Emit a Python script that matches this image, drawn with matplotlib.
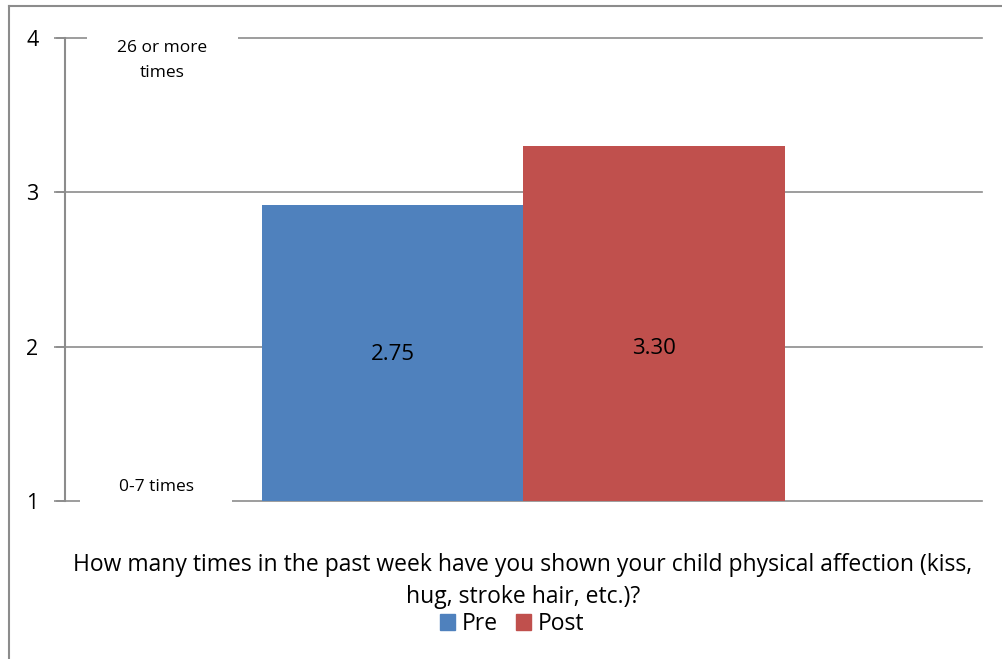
import matplotlib
matplotlib.use('Agg')
import matplotlib.pyplot as plt
from matplotlib.lines import Line2D
from matplotlib.patches import Patch, Rectangle

series = ['Pre', 'Post']
values = [2.92, 3.30]
value_labels = ['2.75', '3.30']
colors = ['#4F81BD', '#C0504D']
yticks = [1, 2, 3, 4]
question = ('How many times in the past week have you shown your child physical affection (kiss,\n'
            'hug, stroke hair, etc.)?')
top_note = '26 or more\ntimes'
bottom_note = '0-7 times'

plt.rcParams['font.family'] = ['Open Sans', 'DejaVu Sans']

fig = plt.figure(figsize=(10.03, 6.59), dpi=100)
ax = fig.add_axes([65/1003, 1-501/659, 917/1003, 463/659])

# outer chart frame (left and top edges visible)
fig.add_artist(Line2D([9/1003, 9/1003], [0, 1-6/659], color='#8c8c8c', lw=1.5))
fig.add_artist(Line2D([9/1003, 1], [1-6/659, 1-6/659], color='#8c8c8c', lw=1.5))

width = 262/917
x0 = 0.5
for i, (v, c, lab) in enumerate(zip(values, colors, value_labels)):
    xc = x0 + (i - 0.5) * width
    ax.bar(xc, v - 1, bottom=1, width=width, color=c, zorder=3)
    ax.text(xc, 1.95 if i == 0 else 1.99, lab, ha='center', va='center', fontsize=16, zorder=4)

ax.set_xlim(0, 1)
ax.set_ylim(1, 4)
ax.set_yticks(yticks)
ax.set_yticklabels([str(t) for t in yticks], fontsize=15.5)
ax.set_xticks([])
for t in yticks:
    ax.axhline(t, color='#8c8c8c', lw=1.2, zorder=1, xmin=-8/917, clip_on=False)
ax.tick_params(axis='y', length=8, width=1.2, color='#8c8c8c', pad=11)
for s in ['top', 'right', 'bottom']:
    ax.spines[s].set_visible(False)
ax.spines['left'].set_color('#8c8c8c')
ax.spines['left'].set_linewidth(1.5)

# white boxes behind the scale notes, hiding the gridlines
ax.add_patch(Rectangle(((87-65)/917, 3.75), 151/917, 0.3, fc='white', ec='none', zorder=2, clip_on=False))
ax.add_patch(Rectangle(((80-65)/917, 0.97), 152/917, 0.2, fc='white', ec='none', zorder=2, clip_on=False))

ax.text((162-65)/917, 3.985, top_note, ha='center', va='top', fontsize=12.5, zorder=4, linespacing=1.75)
ax.text((157-65)/917, 1.09, bottom_note, ha='center', va='center', fontsize=12.5, zorder=4)

fig.text(523/1003, 1-581/659, question, ha='center', va='center', fontsize=16.5, linespacing=1.45)

handles = [Patch(color=c, label=s) for c, s in zip(colors, series)]
fig.legend(handles=handles, loc='center', bbox_to_anchor=(512/1003, 1-624/659), ncol=2,
           frameon=False, fontsize=16.5, handlelength=0.65, handleheight=0.65,
           handletextpad=0.3, columnspacing=0.8)

fig.savefig('out.png', dpi=100)
